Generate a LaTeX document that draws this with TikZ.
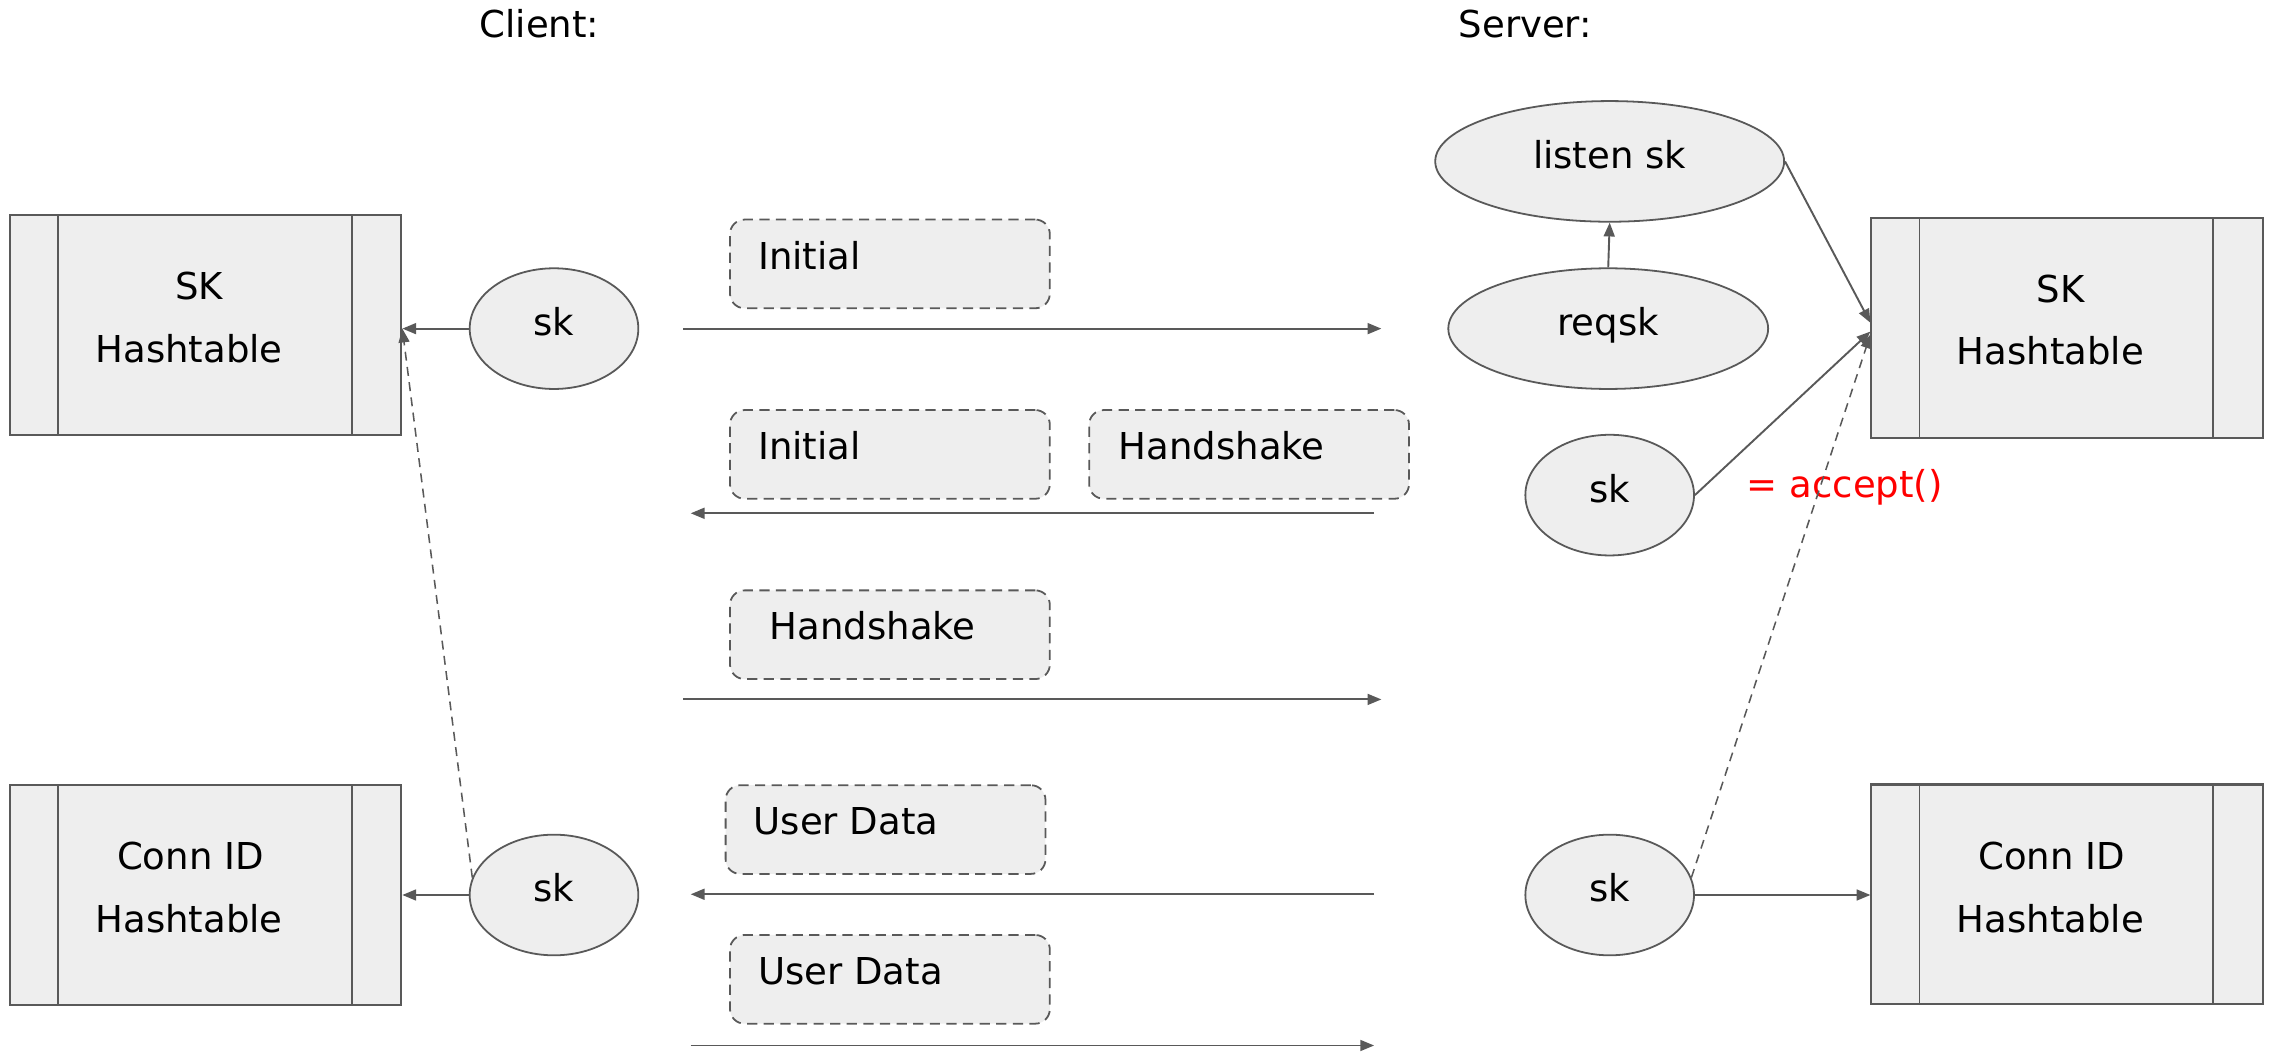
\documentclass[tikz,border=0pt]{standalone}
\usepackage{fontspec}
\setmainfont{DejaVu Sans}
\usetikzlibrary{shapes.geometric,arrows.meta,calc}
\definecolor{lc}{HTML}{595959}
\definecolor{fillc}{HTML}{EEEEEE}
\definecolor{accred}{HTML}{FF0000}
\begin{document}
\begin{tikzpicture}[x=0.02cm,y=-0.02cm,
  every node/.style={font=\fontsize{14.5}{17}\selectfont},
  tbl/.style={draw=lc, fill=fillc, line width=0.8pt, minimum width=5.38cm, minimum height=3.02cm, inner sep=0pt,
    path picture={\draw[lc, line width=0.7pt]
      ([xshift=0.66cm]path picture bounding box.north west) -- ([xshift=0.66cm]path picture bounding box.south west)
      ([xshift=-0.68cm]path picture bounding box.north east) -- ([xshift=-0.68cm]path picture bounding box.south east);}},
  ovl/.style={ellipse, draw=lc, fill=fillc, line width=0.7pt, inner sep=0pt, minimum height=1.66cm,
    text height=0.39cm, text depth=0.2cm},
  msgbox/.style={draw=lc, fill=fillc, dash pattern=on 4pt off 2.5pt, line width=0.7pt, rounded corners=0.2cm, minimum width=4.4cm, minimum height=1.22cm, inner sep=0pt},
  txt/.style={inner sep=0pt, anchor=base},
  mtxt/.style={inner sep=0pt, anchor=base west},
  arr/.style={draw=lc, line width=0.75pt, -{Triangle[length=0.19cm,width=0.15cm]}},
  darr/.style={arr, line width=0.6pt, dash pattern=on 3.5pt off 2.5pt}]
\useasboundingbox (0,0) rectangle (1568,723);

% titles
\node[txt] (client) at (371,26) {Client:};
\node[txt] (server) at (1049,26) {Server:};

% client tables
\node[tbl] (cSK) at (141.5,223.5) {};
\node[txt] (cSKa) at (137,206) {SK};
\node[txt] (cSKb) at (130,249) {Hashtable};
\node[tbl] (cCID) at (141.5,615.5) {};
\node[txt] (cCIDa) at (131,598) {Conn ID};
\node[txt] (cCIDb) at (130,641) {Hashtable};

% client sockets
\node[ovl, minimum width=2.32cm] (csk1) at (381,226) {sk};
\node[ovl, minimum width=2.32cm] (csk2) at (381,615.5) {sk};

% server tables
\node[tbl] (sSK) at (1421.5,225.5) {};
\node[txt] (sSKa) at (1417,208) {SK};
\node[txt] (sSKb) at (1410,251) {Hashtable};
\node[tbl] (sCID) at (1421.5,615) {};
\node[txt] (sCIDa) at (1411,598) {Conn ID};
\node[txt] (sCIDb) at (1410,641) {Hashtable};

% server sockets
\node[ovl, minimum width=4.8cm] (lsk) at (1107,111) {listen sk};
\node[ovl, minimum width=4.4cm] (rq) at (1106,226) {reqsk};
\node[ovl, minimum width=2.32cm] (ssk1) at (1107,340.5) {sk};
\node[ovl, minimum width=2.32cm] (ssk2) at (1107,615.5) {sk};
\node[inner sep=0pt, anchor=base west, text=accred] (acc) at (1201,342) {= accept()};

% message boxes
\node[msgbox] (m1) at (612,181.5) {};
\node[mtxt] (m1t) at (521,185) {Initial};
\node[msgbox] (m2) at (612,312.5) {};
\node[mtxt] (m2t) at (521,316) {Initial};
\node[msgbox] (m3) at (859,312.5) {};
\node[mtxt] (m3t) at (769,316) {Handshake};
\node[msgbox] (m4) at (612,436.5) {};
\node[mtxt] (m4t) at (529,440) {Handshake};
\node[msgbox] (m5) at (609,570.5) {};
\node[mtxt] (m5t) at (518,574) {User Data};
\node[msgbox] (m6) at (612,673.5) {};
\node[mtxt] (m6t) at (521,677) {User Data};

% message arrows
\coordinate (a1s) at (470,226);  \coordinate (a1e) at (950,226);
\coordinate (a2s) at (945,353);  \coordinate (a2e) at (475,353);
\coordinate (a3s) at (470,481);  \coordinate (a3e) at (950,481);
\coordinate (a4s) at (945,615);  \coordinate (a4e) at (475,615);
\coordinate (a5s) at (475,719);  \coordinate (a5e) at (945,719);
\draw[arr] (a1s) -- (a1e);
\draw[arr] (a2s) -- (a2e);
\draw[arr] (a3s) -- (a3e);
\draw[arr] (a4s) -- (a4e);
\draw[arr] (a5s) -- (a5e);

% client connectors
\draw[arr] (csk1.west) -- (csk1.west -| cSK.east);
\draw[arr] (csk2.west) -- (csk2.west -| cCID.east);
\draw[darr] (csk2.168) -- (csk1.west -| cSK.east);

% server connectors
\draw[arr] (rq.north) -- (lsk.south);
\draw[arr] (lsk.east) -- ($(sSK.west)+(0,-3.5)$);
\draw[arr] (ssk1.east) -- ($(sSK.west)+(0,2.5)$);
\draw[darr] (ssk2.12) -- ($(sSK.west)+(0,4.5)$);
\draw[arr] (ssk2.east) -- (ssk2.east -| sCID.west);
\end{tikzpicture}
\end{document}
